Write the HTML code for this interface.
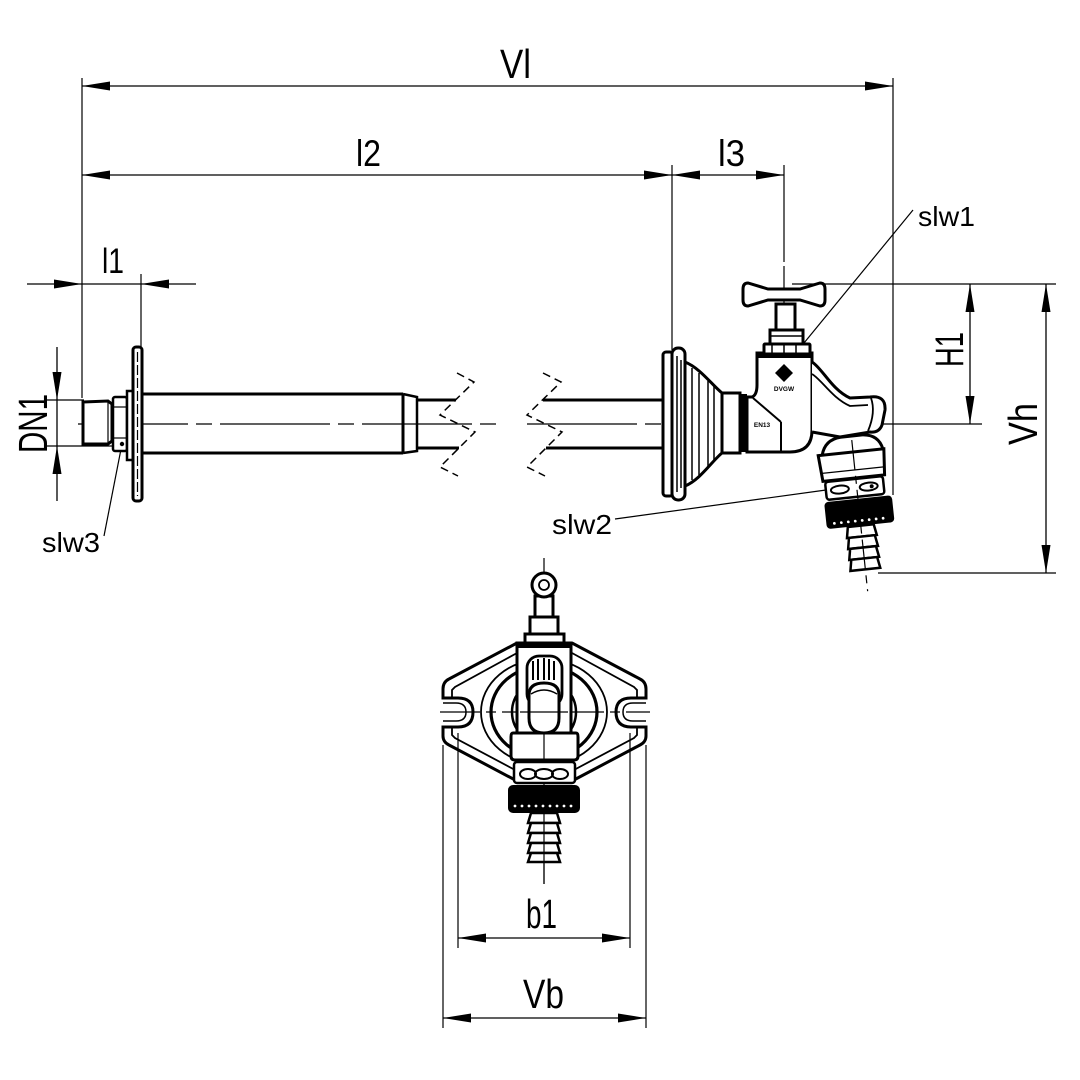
<!DOCTYPE html>
<html><head><meta charset="utf-8"><style>
html,body{margin:0;padding:0;background:#fff;}
svg{display:block;}
text{font-family:"Liberation Sans",sans-serif;fill:#000;}
</style></head><body>
<svg width="1080" height="1080" viewBox="0 0 1080 1080" xmlns="http://www.w3.org/2000/svg">
<rect width="1080" height="1080" fill="#fff"/>
<g stroke="#000" fill="none" stroke-linecap="butt">

<!-- ===== DIMENSION / EXTENSION LINES ===== -->
<g stroke-width="1.3">
  <!-- Vl -->
  <line x1="82" y1="86" x2="893" y2="86"/>
  <!-- l2 / l3 -->
  <line x1="82" y1="175" x2="784" y2="175"/>
  <!-- l1 -->
  <line x1="27" y1="284" x2="196" y2="284"/>
  <!-- DN1 -->
  <line x1="57" y1="347" x2="57" y2="501"/>
  <line x1="47" y1="400" x2="84" y2="400"/>
  <line x1="47" y1="446" x2="114" y2="446"/>
  <!-- H1 Vh -->
  <line x1="970" y1="284" x2="970" y2="424"/>
  <line x1="1046" y1="284" x2="1046" y2="573"/>
  <line x1="792" y1="284" x2="1056" y2="284"/>
  <line x1="905" y1="424" x2="982" y2="424"/>
  <line x1="878" y1="573" x2="1056" y2="573"/>
  <!-- b1 Vb -->
  <line x1="458" y1="938" x2="630" y2="938"/>
  <line x1="443" y1="1018" x2="646" y2="1018"/>
</g>
<g stroke-width="1.2">
  <line x1="82" y1="78" x2="82" y2="398"/>
  <line x1="893" y1="78" x2="893" y2="495"/>
  <line x1="672" y1="165" x2="672" y2="350"/>
  <line x1="784" y1="165" x2="784" y2="262"/>
  <line x1="141" y1="274" x2="141" y2="347"/>
  <line x1="458" y1="733" x2="458" y2="948"/>
  <line x1="630" y1="733" x2="630" y2="948"/>
  <line x1="443" y1="745" x2="443" y2="1028"/>
  <line x1="646" y1="745" x2="646" y2="1028"/>
  <!-- leaders -->
  <line x1="913" y1="210" x2="804" y2="343"/>
  <line x1="615" y1="519" x2="826" y2="490"/>
  <line x1="104" y1="536" x2="122" y2="444"/>
</g>

<!-- arrowheads -->
<g fill="#000" stroke="none">
  <polygon points="82,86 110,81.5 110,90.5"/>
  <polygon points="893,86 865,81.5 865,90.5"/>
  <polygon points="82,175 110,170.5 110,179.5"/>
  <polygon points="672,175 644,170.5 644,179.5"/>
  <polygon points="672,175 700,170.5 700,179.5"/>
  <polygon points="784,175 756,170.5 756,179.5"/>
  <polygon points="82,284 54,279.5 54,288.5"/>
  <polygon points="141,284 169,279.5 169,288.5"/>
  <polygon points="57,400 52.5,372 61.5,372"/>
  <polygon points="57,446 52.5,474 61.5,474"/>
  <polygon points="970,284 965.5,312 974.5,312"/>
  <polygon points="970,424 965.5,396 974.5,396"/>
  <polygon points="1046,284 1041.5,312 1050.5,312"/>
  <polygon points="1046,573 1041.5,545 1050.5,545"/>
  <polygon points="458,938 486,933.5 486,942.5"/>
  <polygon points="630,938 602,933.5 602,942.5"/>
  <polygon points="443,1018 471,1013.5 471,1022.5"/>
  <polygon points="646,1018 618,1013.5 618,1022.5"/>
</g>

<!-- ===== CENTERLINES ===== -->
<g stroke-width="1.2" stroke-dasharray="110 8 16 8">
  <line x1="78" y1="424" x2="497" y2="424"/>
  <line x1="527" y1="424" x2="905" y2="424"/>
  <line x1="784" y1="266" x2="784" y2="440"/>
  <line x1="544" y1="558" x2="544" y2="884"/>
</g>
<line x1="440" y1="712" x2="650" y2="712" stroke-width="1.2" stroke-dasharray="40 6 10 6"/>

<!-- ===== LEFT SIDE (wall part) ===== -->
<g stroke-width="3" fill="#fff">
  <path d="M83 402 L108 401 L112 404 L112 441 L108 444 L83 444 Z"/>
  <rect x="113" y="397" width="14" height="54" rx="2" stroke-width="2.5"/>
  <rect x="127" y="391" width="6" height="69" stroke-width="2.5"/>
  <rect x="133" y="347" width="9" height="154" rx="3"/>
</g>
<g stroke-width="1.2">
  <line x1="108" y1="402" x2="108" y2="443"/>
  <line x1="113" y1="407" x2="127" y2="407"/>
  <line x1="113" y1="438" x2="127" y2="438"/>
  <line x1="137.5" y1="352" x2="137.5" y2="496" stroke-dasharray="10 3"/>
</g>
<circle cx="122" cy="444" r="2.2" fill="#000" stroke="none"/>
<g stroke-width="3">
  <line x1="142" y1="394" x2="403" y2="394"/>
  <line x1="142" y1="453" x2="403" y2="453"/>
  <line x1="403" y1="394" x2="403" y2="453"/>
  <path d="M403 394 L417 397 L417 451 L403 453" stroke-width="2.5"/>
  <line x1="417" y1="400" x2="456" y2="400"/>
  <line x1="417" y1="448" x2="459" y2="448"/>
  <line x1="543" y1="400" x2="664" y2="400"/>
  <line x1="546" y1="448" x2="664" y2="448"/>
</g>
<!-- break lines -->
<g stroke-width="1.5" stroke-dasharray="8 5">
  <polyline points="457,373 474,382 440,415 475,432 440,467 458,476"/>
  <polyline points="543,373 561,382 527,415 562,432 527,467 545,476"/>
</g>

<!-- ===== VALVE SIDE VIEW ===== -->
<g stroke-width="3" fill="#fff">
  <rect x="663" y="352" width="10" height="144" rx="3"/>
  <rect x="672" y="348" width="13" height="152" rx="6"/>
  <path d="M685 362 C700 368 712 385 722 393 L722 453 C712 461 700 480 685 486 Z"/>
  <rect x="722" y="393" width="18" height="60"/>
</g>
<g stroke-width="1.5">
  <line x1="677" y1="356" x2="677" y2="492"/>
  <line x1="681" y1="360" x2="681" y2="488"/>
  <line x1="692" y1="368" x2="692" y2="480"/>
  <line x1="699" y1="373" x2="699" y2="475"/>
  <line x1="708" y1="381" x2="708" y2="467"/>
  <line x1="714" y1="386" x2="714" y2="462"/>
</g>
<rect x="740" y="394" width="7" height="58" fill="#000" stroke="none"/>
<!-- body -->
<path d="M747 397 L752 397 Q757 395 757 385 L757 353 L812 353 L812 430 Q812 452 790 452 L747 452 Z" stroke-width="3" fill="#fff"/>
<rect x="757" y="353" width="55" height="5" fill="#000" stroke="none"/>
<g stroke-width="2">
  <line x1="753" y1="398" x2="781" y2="422"/>
  <line x1="781" y1="422" x2="781" y2="452"/>
</g>
<!-- handle -->
<g stroke-width="3" fill="#fff">
  <rect x="764" y="344" width="46" height="10" rx="1"/>
  <rect x="770" y="330" width="33" height="14"/>
  <rect x="776" y="304" width="19" height="26"/>
  <path d="M748 283 Q743 283 743 289 L743 300 Q743 306 748 306 L768 300 L800 300 L820 306 Q825 306 825 300 L825 289 Q825 283 820 283 L800 289 L768 289 Z"/>
</g>
<g stroke-width="1.5">
  <line x1="770" y1="336" x2="803" y2="336"/>
  <line x1="772" y1="344" x2="772" y2="354"/>
  <line x1="784" y1="344" x2="784" y2="354"/>
  <line x1="796" y1="344" x2="796" y2="354"/>
</g>
<polygon points="784,364 793,373 784,382 775,373" fill="#000" stroke="none"/>
<g font-weight="bold" font-size="6.5" fill="#000" stroke="none">
  <text x="784" y="391" text-anchor="middle" style="font-family:'Liberation Sans',sans-serif;">DVGW</text>
  <text x="762" y="427" text-anchor="middle" style="font-family:'Liberation Sans',sans-serif;">EN13</text>
  <text x="828" y="413" text-anchor="middle" style="font-family:'Liberation Sans',sans-serif;">FROST-</text>
  <text x="840" y="425" text-anchor="middle" style="font-family:'Liberation Sans',sans-serif;">GESCHÜTZT</text>
</g>
<!-- outlet arm -->
<path d="M812 362 C822 368 832 390 850 398 L870 397 Q886 395 885 410 L882 425 Q879 433 870 432 L840 437 L812 432" stroke-width="3" fill="#fff"/>
<path d="M812 374 C822 380 832 398 850 406 L868 405" stroke-width="1.8"/>
<path d="M871 398 Q876 412 868 431" stroke-width="1.8"/>
<!-- outlet assembly -->
<g transform="rotate(-6 855 490)">
  <path d="M826 452 Q830 437 846 436 L868 436 Q884 437 887 452" stroke-width="3" fill="#fff"/>
  <path d="M822 452 L888 452 L886 478 L824 478 Z" stroke-width="3" fill="#fff"/>
  <line x1="824" y1="470" x2="886" y2="470" stroke-width="1.2"/>
  <rect x="826" y="479" width="58" height="18" rx="3" stroke-width="2.5" fill="#fff"/>
  <ellipse cx="840" cy="488" rx="9" ry="4" stroke-width="2"/>
  <ellipse cx="869" cy="488" rx="9" ry="4" stroke-width="2"/>
  <circle cx="872" cy="488" r="2" fill="#000" stroke="none"/>
  <rect x="823" y="499" width="68" height="27" rx="4" fill="#000" stroke="none"/>
  <g fill="#fff" stroke="none">
    <circle cx="831" cy="521" r="1.4"/><circle cx="838" cy="521" r="1.4"/><circle cx="845" cy="521" r="1.4"/>
    <circle cx="852" cy="521" r="1.4"/><circle cx="859" cy="521" r="1.4"/><circle cx="866" cy="521" r="1.4"/>
    <circle cx="873" cy="521" r="1.4"/><circle cx="880" cy="521" r="1.4"/>
  </g>
  <g stroke-width="2.5" fill="#fff">
    <path d="M844 526 L870 526 L872 537 L842 537 Z"/>
    <path d="M844 537 L870 537 L872 548 L842 548 Z"/>
    <path d="M844 548 L870 548 L872 559 L842 559 Z"/>
    <path d="M844 559 L870 559 L872 570 L842 570 Z"/>
  </g>
  <line x1="857" y1="440" x2="857" y2="592" stroke-width="1.2" stroke-dasharray="30 6 8 6"/>
</g>

<!-- ===== TOP VIEW ===== -->
<!-- ellipses -->
<ellipse cx="544" cy="712" rx="63" ry="53" stroke-width="1.8"/>
<ellipse cx="544" cy="712" rx="53" ry="46" stroke-width="3.2"/>
<circle cx="544" cy="712" r="32" stroke-width="2.5"/>
<!-- plate left -->
<g id="plate" stroke-width="3">
  <path d="M517 643 L449 679 Q443 682 443 689 L443 698 L458 698 Q473 698 473 712 Q473 727 458 727 L443 727 L443 736 Q443 742 449 745 L517 781"/>
  <path d="M517 653 L455 687 L452 690 L452 698" stroke-width="1.8"/>
  <path d="M452 727 L452 735 L455 738 L517 771" stroke-width="1.8"/>
  <path d="M443 703 L456 703 Q466 703 466 712 Q466 721 456 721 L443 721" stroke-width="1.5"/>
</g>
<g transform="translate(1089 0) scale(-1 1)" stroke-width="3">
  <path d="M517 643 L449 679 Q443 682 443 689 L443 698 L458 698 Q473 698 473 712 Q473 727 458 727 L443 727 L443 736 Q443 742 449 745 L517 781"/>
  <path d="M517 653 L455 687 L452 690 L452 698" stroke-width="1.8"/>
  <path d="M452 727 L452 735 L455 738 L517 771" stroke-width="1.8"/>
  <path d="M443 703 L456 703 Q466 703 466 712 Q466 721 456 721 L443 721" stroke-width="1.5"/>
</g>
<!-- handle top view -->
<g stroke-width="3" fill="#fff">
  <rect x="535" y="596" width="18" height="22"/>
  <circle cx="544" cy="585" r="12"/>
  <rect x="530" y="617" width="28" height="19"/>
  <rect x="525" y="634" width="39" height="9"/>
</g>
<circle cx="544" cy="585" r="5" stroke-width="1.8"/>
<!-- body top view -->
<rect x="517" y="643" width="54" height="90" stroke-width="3" fill="#fff"/>
<rect x="517" y="643" width="54" height="5" fill="#000" stroke="none"/>
<rect x="527" y="656" width="35" height="50" rx="12" stroke-width="2.8"/>
<g stroke-width="2">
  <line x1="533" y1="661" x2="533" y2="680"/>
  <line x1="538" y1="659" x2="538" y2="680"/>
  <line x1="544" y1="658" x2="544" y2="680"/>
  <line x1="549" y1="659" x2="549" y2="680"/>
  <line x1="554" y1="661" x2="554" y2="680"/>
</g>
<path d="M529 700 L529 695 Q529 683 544 683 Q559 683 559 695 L559 718 Q559 733 544 733 Q529 733 529 718 Z" stroke-width="3" fill="#fff"/>
<path d="M531 694 Q544 686 557 694" stroke-width="1.5"/>
<path d="M513 733 L576 733 Q578 733 578 737 L578 756 Q578 760 574 760 L515 760 Q511 760 511 756 L511 737 Q511 733 513 733 Z" stroke-width="3" fill="#fff"/>
<line x1="544" y1="733" x2="544" y2="760" stroke-width="1.2"/>
<rect x="514" y="762" width="61" height="21" rx="3" stroke-width="2.5" fill="#fff"/>
<ellipse cx="528" cy="774" rx="8" ry="5" stroke-width="2"/>
<ellipse cx="544" cy="774" rx="9" ry="5" stroke-width="2"/>
<ellipse cx="560" cy="774" rx="8" ry="5" stroke-width="2"/>
<rect x="508" y="785" width="72" height="28" rx="5" fill="#000" stroke="none"/>
<g fill="#fff" stroke="none">
  <circle cx="515" cy="806" r="1.4"/><circle cx="522" cy="806" r="1.4"/><circle cx="529" cy="806" r="1.4"/>
  <circle cx="536" cy="806" r="1.4"/><circle cx="543" cy="806" r="1.4"/><circle cx="550" cy="806" r="1.4"/>
  <circle cx="557" cy="806" r="1.4"/><circle cx="564" cy="806" r="1.4"/><circle cx="571" cy="806" r="1.4"/>
</g>
<g stroke-width="2.5" fill="#fff">
  <path d="M531 813 L557 813 L560 823 L528 823 Z"/>
  <path d="M531 823 L557 823 L560 833 L528 833 Z"/>
  <path d="M531 833 L557 833 L560 843 L528 843 Z"/>
  <path d="M531 843 L557 843 L560 853 L528 853 Z"/>
  <path d="M531 853 L557 853 L560 862 L528 862 Z"/>
</g>
<line x1="544" y1="813" x2="544" y2="884" stroke-width="1.2"/>
<line x1="520" y1="712" x2="568" y2="712" stroke-width="1.2"/>
</g>

<!-- ===== TEXT ===== -->
<g fill="#000">
  <text x="500" y="78" font-size="41" textLength="31" lengthAdjust="spacingAndGlyphs">Vl</text>
  <text x="356" y="166" font-size="37" textLength="25" lengthAdjust="spacingAndGlyphs">l2</text>
  <text x="718" y="166" font-size="37" textLength="27" lengthAdjust="spacingAndGlyphs">l3</text>
  <text x="102" y="273" font-size="35" textLength="22" lengthAdjust="spacingAndGlyphs">l1</text>
  <text transform="translate(47 453) rotate(-90)" x="0" y="0" font-size="41" textLength="59" lengthAdjust="spacingAndGlyphs">DN1</text>
  <text transform="translate(963 367) rotate(-90)" x="0" y="0" font-size="40" textLength="35" lengthAdjust="spacingAndGlyphs">H1</text>
  <text transform="translate(1037 445) rotate(-90)" x="0" y="0" font-size="41" textLength="42" lengthAdjust="spacingAndGlyphs">Vh</text>
  <text x="526" y="928" font-size="41" textLength="31" lengthAdjust="spacingAndGlyphs">b1</text>
  <text x="523" y="1008" font-size="41" textLength="41" lengthAdjust="spacingAndGlyphs">Vb</text>
  <text x="918" y="226" font-size="28" textLength="57" lengthAdjust="spacingAndGlyphs">slw1</text>
  <text x="552" y="534" font-size="28" textLength="60" lengthAdjust="spacingAndGlyphs">slw2</text>
  <text x="42" y="552" font-size="28" textLength="58" lengthAdjust="spacingAndGlyphs">slw3</text>
</g>
</svg>
</body></html>
